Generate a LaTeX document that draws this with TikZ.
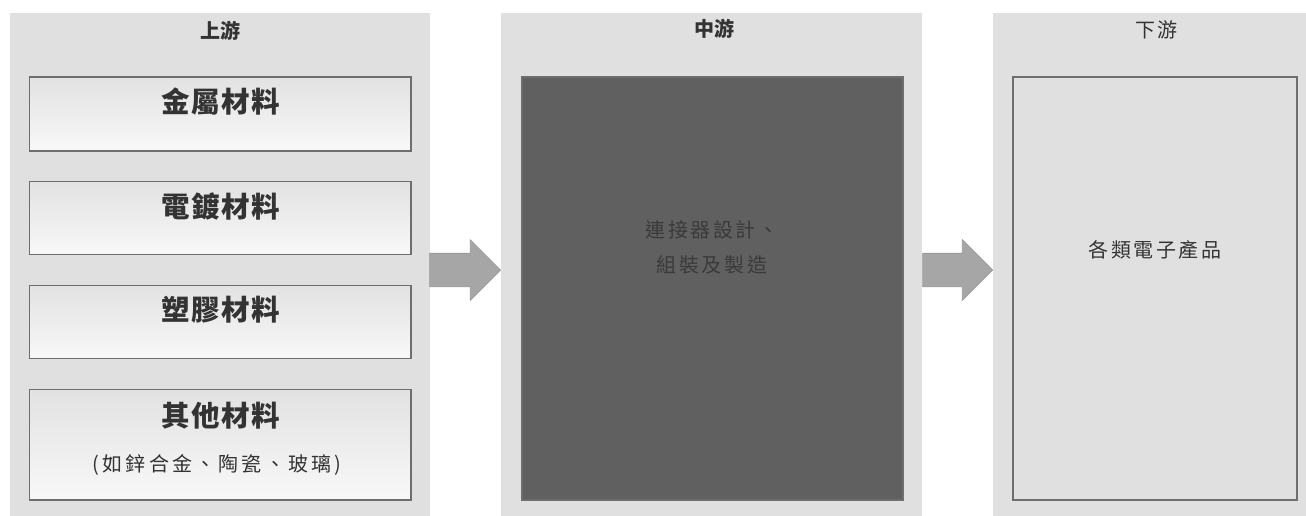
\documentclass[tikz,border=0pt]{standalone}
\usepackage{fontspec}
\setmainfont{Noto Sans CJK TC}
\usetikzlibrary{shapes.arrows}
\definecolor{panelgray}{HTML}{E0E0E0}
\definecolor{boxborder}{HTML}{6E6E6E}
\definecolor{boxtop}{HTML}{E2E2E2}
\definecolor{boxbot}{HTML}{F8F8F8}
\definecolor{darkfill}{HTML}{606060}
\definecolor{darktext}{HTML}{3A3A3A}
\definecolor{arrowfill}{HTML}{A6A6A6}
\definecolor{arrowdraw}{HTML}{989898}
\definecolor{textcol}{HTML}{333333}
\tikzset{
  panel/.style={fill=panelgray, draw=none, inner sep=0pt, minimum width=#1, minimum height=504pt},
  matbox/.style={draw=boxborder, line width=1.2pt, top color=boxtop, bottom color=boxbot, inner sep=0pt, minimum width=381.5pt, minimum height=#1},
  darkbox/.style={draw=boxborder, line width=1.2pt, fill=darkfill, inner sep=0pt, minimum width=381pt, minimum height=423pt},
  lightbox/.style={draw=boxborder, line width=1.2pt, fill=panelgray, inner sep=0pt, minimum width=284pt, minimum height=423pt},
  paneltitle/.style={text=textcol, inner sep=0pt, font=\bfseries\fontsize{20}{24}\selectfont},
  paneltitlereg/.style={text=textcol, inner sep=0pt, font=\fontsize{20}{24}\selectfont\addfontfeature{LetterSpace=10}},
  matlabel/.style={text=textcol, inner sep=0pt, font=\bfseries\fontsize{28.5}{32}\selectfont\addfontfeature{LetterSpace=5}},
  smalltext/.style={text=textcol, inner sep=0pt, font=\fontsize{20}{24}\selectfont\addfontfeature{LetterSpace=13}},
  blockarrow/.style={single arrow, fill=arrowfill, draw=arrowdraw, line width=0.6pt, inner xsep=0pt, inner ysep=16.5pt, single arrow head extend=13.5pt, single arrow head indent=0pt, single arrow tip angle=90, minimum height=#1, anchor=tip}
}
\begin{document}
\begin{tikzpicture}[x=1pt, y=-1pt]
\useasboundingbox (0,0) rectangle (1306,515);
% panels
\node[panel=420pt] (p1) at (220,265) {};
\node[panel=421pt] (p2) at (711.5,265) {};
\node[panel=325pt] (p3) at (1155.5,265) {};
% titles
\node[paneltitle] (t1) at (220,31) {上游};
\node[paneltitle] (t2) at (714,29) {中游};
\node[paneltitlereg] (t3) at (1156,30) {下游};
% upstream boxes
\node[matbox=74pt] (b1) at (220.25,114) {};
\node[matbox=73.5pt] (b2) at (220.25,218) {};
\node[matbox=73.5pt] (b3) at (220.25,322) {};
\node[matbox=110.7pt] (b4) at (220.25,444.7) {};
\node[matlabel] (l1) at (221,102) {金屬材料};
\node[matlabel] (l2) at (221,206) {電鍍材料};
\node[matlabel] (l3) at (221,310) {塑膠材料};
\node[matlabel] (l4) at (221,416) {其他材料};
\node[smalltext, font=\fontsize{20}{24}\selectfont\addfontfeature{LetterSpace=16}] (l5) at (217,465) {(如鋅合金、陶瓷、玻璃)};
% midstream
\node[darkbox] (m) at (712.5,288.5) {};
\node[smalltext, text=darktext] (m1) at (712,230) {連接器設計、};
\node[smalltext, text=darktext] (m2) at (712,265) {組裝及製造};
% downstream
\node[lightbox] (d) at (1155,288.5) {};
\node[smalltext] (d1) at (1155,250) {各類電子產品};
% arrows
\node[blockarrow=71pt] (a1) at (501,270) {};
\node[blockarrow=70pt] (a2) at (993,270) {};
\end{tikzpicture}
\end{document}
